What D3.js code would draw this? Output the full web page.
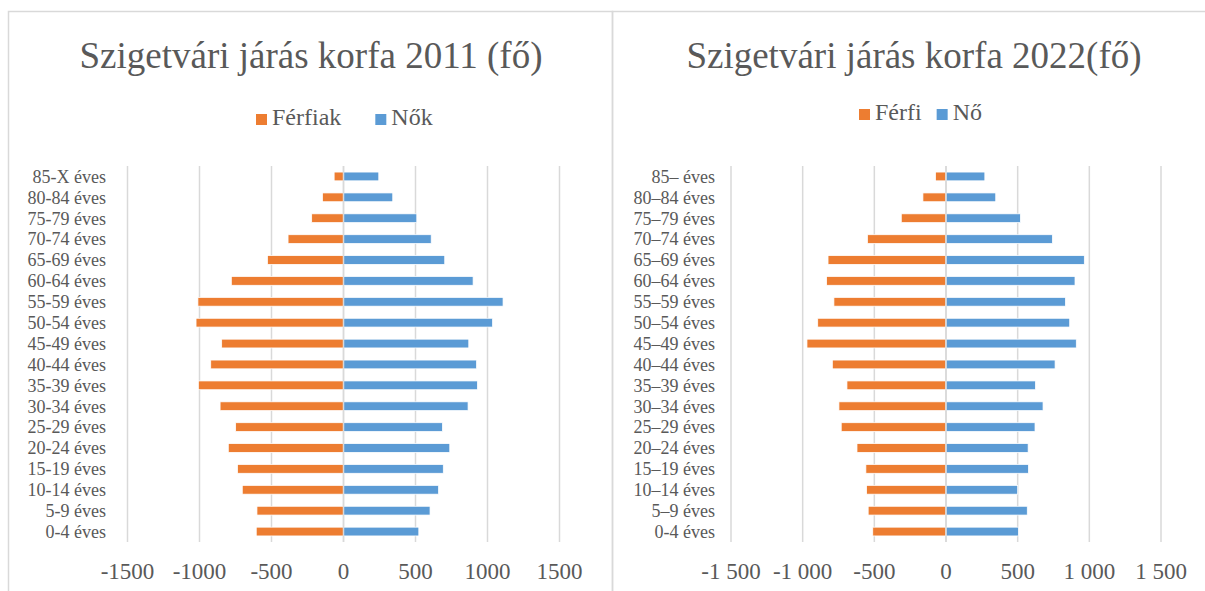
<!DOCTYPE html>
<html>
<head>
<meta charset="utf-8">
<script src="https://cdn.jsdelivr.net/npm/d3@7"></script>
<style>
  body { margin: 0; background: #fff; }
  svg { display: block; font-family: "Liberation Serif", "Times New Roman", serif; }
</style>
</head>
<body>
<svg id="chart" width="1205" height="591"></svg>
<script>
// age groups, bottom to top
const ages2011 = ["0-4 éves", "5-9 éves", "10-14 éves", "15-19 éves", "20-24 éves", "25-29 éves",
  "30-34 éves", "35-39 éves", "40-44 éves", "45-49 éves", "50-54 éves", "55-59 éves",
  "60-64 éves", "65-69 éves", "70-74 éves", "75-79 éves", "80-84 éves", "85-X éves"];
const ages2022 = ["0-4 éves", "5–9 éves", "10–14 éves", "15–19 éves", "20–24 éves", "25–29 éves",
  "30–34 éves", "35–39 éves", "40–44 éves", "45–49 éves", "50–54 éves", "55–59 éves",
  "60–64 éves", "65–69 éves", "70–74 éves", "75–79 éves", "80–84 éves", "85– éves"];

// men are plotted as negative numbers
const ferfiak2011 = [-606, -601, -703, -736, -800, -749, -857, -1008, -922, -846, -1024, -1011, -779, -528, -385, -221, -146, -65];
const nok2011 = [523, 601, 660, 693, 738, 687, 865, 930, 924, 870, 1035, 1108, 900, 703, 609, 509, 342, 245];
const ferfi2022 = [-511, -543, -554, -559, -621, -731, -747, -691, -793, -970, -895, -782, -833, -823, -548, -312, -161, -73];
const no2022 = [505, 567, 500, 575, 573, 621, 677, 624, 761, 909, 863, 833, 900, 965, 742, 519, 347, 271];

const ticks = [-1500, -1000, -500, 0, 500, 1000, 1500];

const ORANGE = "#ed7d31", BLUE = "#5b9bd5", TEXT = "#595959", GRID = "#d9d9d9";

const svg = d3.select("#chart");

function pyramid(opt) {
  const g = svg.append("g");

  // chart frame
  g.append("rect")
    .attr("x", opt.frame[0]).attr("y", 11.5)
    .attr("width", opt.frame[1] - opt.frame[0]).attr("height", 600)
    .attr("fill", "none").attr("stroke", GRID).attr("stroke-width", 1.5);

  g.append("text")
    .attr("x", opt.titleX).attr("y", 68)
    .attr("text-anchor", "middle")
    .attr("font-size", 37).attr("fill", TEXT)
    .text(opt.title);

  const x = d3.scaleLinear().domain([-1500, 1500]).range(opt.xRange);
  const y = d3.scaleBand().domain(opt.ages.slice().reverse()).range([166, 542]).paddingInner(0.58).paddingOuter(0.29);

  // gridlines
  g.append("g").selectAll("line").data(ticks).join("line")
    .attr("x1", d => x(d)).attr("x2", d => x(d))
    .attr("y1", 166).attr("y2", 542)
    .attr("stroke", GRID).attr("stroke-width", 1.5);

  const rows = opt.ages.map((a, i) => ({ age: a, m: opt.men[i], f: opt.women[i] }));

  g.append("g").selectAll("rect").data(rows).join("rect")
    .attr("x", d => x(d.m)).attr("width", d => x(0) - x(d.m))
    .attr("y", d => y(d.age)).attr("height", y.bandwidth())
    .attr("fill", ORANGE).attr("stroke", "#fff").attr("stroke-width", 0.75);

  g.append("g").selectAll("rect").data(rows).join("rect")
    .attr("x", x(0)).attr("width", d => x(d.f) - x(0))
    .attr("y", d => y(d.age)).attr("height", y.bandwidth())
    .attr("fill", BLUE).attr("stroke", "#fff").attr("stroke-width", 0.75);

  // zero line sits between the two halves
  g.append("line")
    .attr("x1", x(0)).attr("x2", x(0)).attr("y1", 166).attr("y2", 542)
    .attr("stroke", GRID).attr("stroke-width", 1.5);

  // category labels
  g.append("g").selectAll("text").data(opt.ages).join("text")
    .attr("x", opt.labelX).attr("y", d => y(d) + y.bandwidth() / 2)
    .attr("dy", "0.35em").attr("text-anchor", "end")
    .attr("font-size", 18).attr("fill", TEXT)
    .text(d => d);

  // value axis labels
  g.append("g").selectAll("text").data(ticks).join("text")
    .attr("x", d => x(d)).attr("y", 571).attr("dy", "0.35em")
    .attr("text-anchor", "middle")
    .attr("font-size", 23).attr("fill", TEXT)
    .text(opt.fmt);

  // legend
  const lg = g.append("g");
  let lx = opt.legend.x;
  opt.legend.items.forEach((it, i) => {
    lg.append("rect").attr("x", lx).attr("y", opt.legend.y - 11).attr("width", 11).attr("height", 11)
      .attr("fill", it.color);
    const t = lg.append("text").attr("x", lx + 16).attr("y", opt.legend.y)
      .attr("font-size", 24).attr("fill", TEXT).text(it.name);
    lx += 16 + t.node().getComputedTextLength() + opt.legend.gap;
  });
}

pyramid({
  title: "Szigetvári járás korfa 2011 (fő)",
  titleX: 311,
  frame: [8.5, 612.5],
  ages: ages2011, men: ferfiak2011, women: nok2011,
  xRange: [127.5, 559.5],
  labelX: 106,
  fmt: d => String(d),
  legend: { x: 256, y: 125, gap: 34, items: [{ name: "Férfiak", color: ORANGE }, { name: "Nők", color: BLUE }] }
});

pyramid({
  title: "Szigetvári járás korfa 2022(fő)",
  titleX: 914,
  frame: [612.5, 1215],
  ages: ages2022, men: ferfi2022, women: no2022,
  xRange: [731, 1161],
  labelX: 715,
  fmt: d => d3.format(",")(d).replace(",", " ").replace("−", "-"),
  legend: { x: 859, y: 120, gap: 15, items: [{ name: "Férfi", color: ORANGE }, { name: "Nő", color: BLUE }] }
});
</script>
</body>
</html>
